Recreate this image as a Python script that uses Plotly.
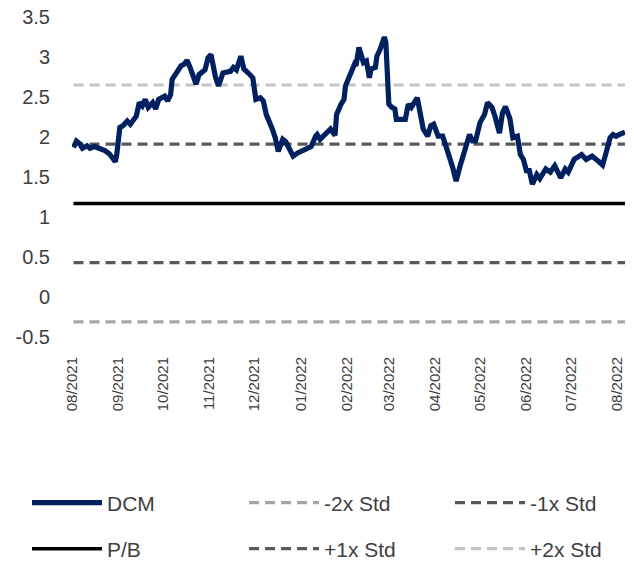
import plotly.graph_objects as go

dates = [
    "2021-08-02", "2021-08-04", "2021-08-06", "2021-08-08", "2021-08-11", "2021-08-13",
    "2021-08-16", "2021-08-20", "2021-08-23", "2021-08-26", "2021-08-30", "2021-08-31",
    "2021-09-02", "2021-09-04", "2021-09-07", "2021-09-09", "2021-09-11", "2021-09-13",
    "2021-09-15", "2021-09-17", "2021-09-19", "2021-09-21", "2021-09-24", "2021-09-26",
    "2021-09-28", "2021-10-02", "2021-10-04", "2021-10-06", "2021-10-07", "2021-10-09",
    "2021-10-12", "2021-10-13", "2021-10-15", "2021-10-17", "2021-10-19", "2021-10-21",
    "2021-10-23", "2021-10-25", "2021-10-29", "2021-10-31", "2021-11-02", "2021-11-05",
    "2021-11-07", "2021-11-10", "2021-11-15", "2021-11-17", "2021-11-19", "2021-11-22",
    "2021-11-24", "2021-11-27", "2021-11-30", "2021-12-02", "2021-12-05", "2021-12-07",
    "2021-12-09", "2021-12-13", "2021-12-15", "2021-12-17", "2021-12-20", "2021-12-22",
    "2021-12-24", "2021-12-27", "2021-12-30", "2022-01-03", "2022-01-08", "2022-01-11",
    "2022-01-12", "2022-01-14", "2022-01-18", "2022-01-21", "2022-01-24", "2022-01-25",
    "2022-01-28", "2022-01-30", "2022-01-31", "2022-02-04", "2022-02-06", "2022-02-07",
    "2022-02-09", "2022-02-12", "2022-02-14", "2022-02-16", "2022-02-17", "2022-02-20",
    "2022-02-21", "2022-02-23", "2022-02-26", "2022-02-27", "2022-03-01", "2022-03-03",
    "2022-03-05", "2022-03-06", "2022-03-10", "2022-03-12", "2022-03-14", "2022-03-16",
    "2022-03-20", "2022-03-22", "2022-03-24", "2022-03-27", "2022-03-29", "2022-03-31",
    "2022-04-03", "2022-04-06", "2022-04-08", "2022-04-10", "2022-04-13", "2022-04-15",
    "2022-04-18", "2022-04-21", "2022-04-24", "2022-04-26", "2022-04-28", "2022-05-01",
    "2022-05-04", "2022-05-06", "2022-05-09", "2022-05-11", "2022-05-14", "2022-05-16",
    "2022-05-18", "2022-05-21", "2022-05-23", "2022-05-26", "2022-05-28", "2022-05-30",
    "2022-06-01", "2022-06-03", "2022-06-05", "2022-06-08", "2022-06-10", "2022-06-14",
    "2022-06-17", "2022-06-20", "2022-06-24", "2022-06-27", "2022-06-29", "2022-07-03",
    "2022-07-05", "2022-07-08", "2022-07-11", "2022-07-15", "2022-07-19", "2022-07-22",
    "2022-07-24", "2022-07-27", "2022-07-29", "2022-07-31", "2022-08-02", "2022-08-06",
]

dcm = [
    1.87, 1.95, 1.92, 1.86, 1.89, 1.86,
    1.88, 1.85, 1.83, 1.79, 1.69, 1.79,
    2.12, 2.14, 2.20, 2.16, 2.20, 2.26,
    2.43, 2.39, 2.47, 2.37, 2.43, 2.35,
    2.47, 2.51, 2.45, 2.53, 2.72, 2.78,
    2.85, 2.89, 2.91, 2.96, 2.87, 2.74,
    2.66, 2.78, 2.84, 2.99, 3.03, 2.75,
    2.64, 2.80, 2.82, 2.87, 2.84, 3.01,
    2.85, 2.80, 2.74, 2.47, 2.49, 2.45,
    2.28, 2.10, 1.99, 1.82, 1.97, 1.94,
    1.86, 1.76, 1.80, 1.83, 1.88, 2.01,
    2.03, 1.97, 2.05, 2.10, 2.02, 2.28,
    2.41, 2.47, 2.64, 2.80, 2.91, 2.89,
    3.12, 2.93, 2.95, 2.74, 2.85, 2.87,
    3.01, 3.09, 3.25, 3.18, 2.41, 2.37,
    2.35, 2.22, 2.22, 2.22, 2.41, 2.37,
    2.49, 2.30, 2.10, 2.01, 2.14, 2.16,
    2.01, 2.01, 1.91, 1.78, 1.60, 1.45,
    1.66, 1.85, 2.03, 1.95, 1.95, 2.18,
    2.28, 2.43, 2.37, 2.26, 2.05, 2.30,
    2.38, 2.23, 1.99, 2.01, 1.78, 1.72,
    1.58, 1.58, 1.41, 1.53, 1.48, 1.60,
    1.56, 1.64, 1.49, 1.60, 1.56, 1.72,
    1.74, 1.78, 1.72, 1.76, 1.70, 1.65,
    1.78, 1.99, 2.03, 2.01, 2.03, 2.06,
]

pb_mean = 1.17
minus_2std = -0.31
minus_1std = 0.43
plus_1std = 1.91
plus_2std = 2.65

y_ticks = [-0.5, 0, 0.5, 1, 1.5, 2, 2.5, 3, 3.5]
y_tick_labels = ["-0.5", "0", "0.5", "1", "1.5", "2", "2.5", "3", "3.5"]

FONT = "Liberation Sans, Arial, sans-serif"
span = [dates[0], dates[-1]]
x_range = ["2021-08-01", dates[-1]]

# the page body adds an 8px offset, so the figure is 8px smaller than the window
W, H = 626, 553

fig = go.Figure()


def flat(name, value, color, dash, width, legend):
    fig.add_trace(go.Scatter(
        x=span, y=[value, value], mode="lines", name=name,
        line=dict(color=color, dash=dash, width=width),
        legend=legend, hoverinfo="skip",
    ))


flat("-2x Std", minus_2std, "#A6A6A6", "10px,6px", 3.2, "legend2")
flat("-1x Std", minus_1std, "#595959", "10px,6px", 3.2, "legend3")
flat("P/B", pb_mean, "#000000", "solid", 3.5, "legend4")
flat("+1x Std", plus_1std, "#595959", "10px,6px", 3.2, "legend5")
flat("+2x Std", plus_2std, "#C4C4C4", "10px,6px", 3.2, "legend6")

fig.add_trace(go.Scatter(
    x=dates, y=dcm, mode="lines", name="DCM",
    line=dict(color="#002060", width=5.2),
    legend="legend",
))

leg_common = dict(
    orientation="h", xref="container", yref="container",
    xanchor="left", yanchor="middle",
    font=dict(family=FONT, size=21, color="#404040"),
    itemwidth=70, bgcolor="rgba(0,0,0,0)",
)

row1 = 1 - 495 / H
row2 = 1 - 541 / H
col_x = [19 / W, 236 / W, 442 / W]

fig.update_layout(
    width=W, height=H,
    margin=dict(l=64, r=9, t=9, b=224),
    paper_bgcolor="white", plot_bgcolor="white",
    showlegend=True,
    legend=dict(x=col_x[0], y=row1, **leg_common),
    legend2=dict(x=col_x[1], y=row1, **leg_common),
    legend3=dict(x=col_x[2], y=row1, **leg_common),
    legend4=dict(x=col_x[0], y=row2, **leg_common),
    legend5=dict(x=col_x[1], y=row2, **leg_common),
    legend6=dict(x=col_x[2], y=row2, **leg_common),
    xaxis=dict(
        type="date", range=x_range, automargin=False,
        tickformat="%m/%Y", dtick="M1", tick0="2021-08-01",
        tickangle=-90, showgrid=False, zeroline=False, showline=False,
        ticks="outside", ticklen=13, tickcolor="rgba(0,0,0,0)",
        tickfont=dict(family=FONT, size=15, color="#404040"),
        ticklabeloverflow="allow",
    ),
    yaxis=dict(
        range=[-0.5, 3.5], tickvals=y_ticks, ticktext=y_tick_labels,
        automargin=False,
        showgrid=False, zeroline=False, showline=False,
        ticks="outside", ticklen=17, tickcolor="rgba(0,0,0,0)",
        tickfont=dict(family=FONT, size=20, color="#404040"),
        ticklabeloverflow="allow",
    ),
)

fig.write_html("out.html")
